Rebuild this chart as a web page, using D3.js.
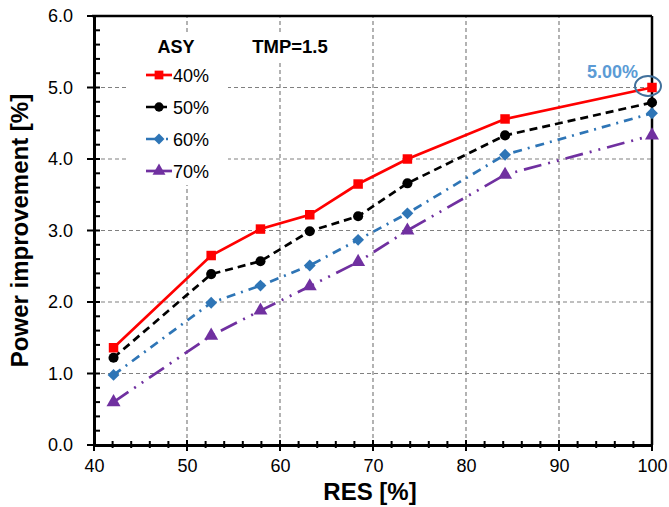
<!DOCTYPE html>
<html>
<head>
<meta charset="utf-8">
<script src="https://cdn.jsdelivr.net/npm/d3@7"></script>
<style>
  body { margin: 0; background: #fff; }
  svg text { font-family: "Liberation Sans", Arial, sans-serif; }
</style>
</head>
<body>
<div id="chart"></div>
<script>
// data
const res = [42.1, 52.6, 57.9, 63.2, 68.4, 73.7, 84.2, 100];
const asy40 = [1.36, 2.65, 3.02, 3.22, 3.65, 4.00, 4.56, 5.00];
const asy50 = [1.22, 2.39, 2.57, 2.99, 3.20, 3.66, 4.33, 4.79];
const asy60 = [0.98, 1.99, 2.23, 2.51, 2.87, 3.24, 4.06, 4.64];
const asy70 = [0.60, 1.53, 1.88, 2.22, 2.56, 3.00, 3.78, 4.33];
const seriesNames = ["40%", "50%", "60%", "70%"];
const xTicks = [40, 50, 60, 70, 80, 90, 100];
const yTicks = [0, 1, 2, 3, 4, 5, 6];

const W = 669, H = 507;
const m = { top: 16, left: 94, right: 17, bottom: 62 };

let svg = d3.select("#chart").append("svg")
    .attr("width", W).attr("height", H);

let x = d3.scaleLinear().domain([40, 100]).range([m.left, W - m.right]);
let y = d3.scaleLinear().domain([0, 6]).range([H - m.bottom, m.top]);

// rot: blue diamonds are drawn as squares turned 45 degrees
let styles = [
   { color: "#ff0000", dash: null, legDash: null, shape: d3.symbolSquare, size: 90, rot: 0 },
   { color: "#000000", dash: "8,5", legDash: "13,3,5,10", shape: d3.symbolCircle, size: 80, rot: 0 },
   { color: "#2e75b6", dash: "9,6,2,6", legDash: "13,7,2,10", shape: d3.symbolSquare, size: 70, rot: 45 },
   { color: "#7030a0", dash: "18,7,2,7,2,7", legDash: null, shape: d3.symbolTriangle, size: 85, rot: 0 }
];

let series = [asy40, asy50, asy60, asy70].map((vals, i) => ({
   name: seriesNames[i],
   style: styles[i],
   points: vals.map((v, j) => ({ x: res[j], y: v }))
}));

// grid
let grid = svg.append("g");
grid.selectAll(".gx").data(xTicks.slice(1, -1)).enter().append("line")
   .attr("x1", d => x(d)).attr("x2", d => x(d))
   .attr("y1", y(0)).attr("y2", y(6))
   .attr("stroke", "#808080").attr("stroke-width", 1.2).attr("stroke-dasharray", "4,3");
grid.selectAll(".gy").data(yTicks.slice(1, -1)).enter().append("line")
   .attr("y1", d => y(d)).attr("y2", d => y(d))
   .attr("x1", x(40)).attr("x2", x(100))
   .attr("stroke", "#808080").attr("stroke-width", 1.2).attr("stroke-dasharray", "4,3");

// legend box and TMP label background cover the grid
svg.append("rect").attr("x", 128).attr("y", 33).attr("width", 100).attr("height", 152).attr("fill", "#fff");
svg.append("rect").attr("x", 248).attr("y", 33).attr("width", 86).attr("height", 28).attr("fill", "#fff");

// frame
svg.append("line").attr("x1", x(40) - 2).attr("x2", x(100)).attr("y1", y(6)).attr("y2", y(6))
   .attr("stroke", "#000").attr("stroke-width", 2.5);
svg.append("line").attr("x1", x(100)).attr("x2", x(100)).attr("y1", y(6)).attr("y2", y(0))
   .attr("stroke", "#000").attr("stroke-width", 2.5);

// axes
let xAxis = svg.append("g")
   .attr("transform", "translate(0," + y(0) + ")")
   .call(d3.axisBottom(x).tickValues(xTicks).tickSize(0).tickPadding(14).tickFormat(d3.format("d")));
xAxis.select(".domain").attr("stroke-width", 3);
xAxis.selectAll("text").attr("font-size", 18).attr("fill", "#000");
xAxis.selectAll(".minor").data(d3.range(40, 101, 2)).enter().append("line")
   .attr("x1", d => x(d)).attr("x2", d => x(d))
   .attr("y1", d => d % 10 === 0 ? -5 : -4).attr("y2", d => d % 10 === 0 ? 6 : 3)
   .attr("stroke", "#000").attr("stroke-width", 2);

let yAxis = svg.append("g")
   .attr("transform", "translate(" + x(40) + ",0)")
   .call(d3.axisLeft(y).tickValues(yTicks).tickSize(0).tickPadding(21).tickFormat(d3.format(".1f")));
yAxis.select(".domain").attr("stroke-width", 3);
yAxis.selectAll("text").attr("font-size", 18).attr("fill", "#000");
yAxis.selectAll(".minor").data(d3.range(0, 6.01, 0.2)).enter().append("line")
   .attr("y1", d => y(d)).attr("y2", d => y(d))
   .attr("x1", d => Math.abs(d - Math.round(d)) < 1e-6 ? -7 : 0).attr("x2", 6)
   .attr("stroke", "#000").attr("stroke-width", 2);

// axis titles
svg.append("text").attr("x", 370).attr("y", 500)
   .attr("text-anchor", "middle").attr("font-size", 24).attr("font-weight", "bold")
   .text("RES [%]");
svg.append("text")
   .attr("transform", "translate(28," + y(3) + ") rotate(-90)")
   .attr("text-anchor", "middle").attr("font-size", 24).attr("font-weight", "bold")
   .text("Power improvement [%]");

// lines
let line = d3.line().x(d => x(d.x)).y(d => y(d.y));
let serie = svg.selectAll(".serie").data(series).enter().append("g").attr("class", "serie");
serie.append("path")
   .attr("d", d => line(d.points))
   .attr("fill", "none")
   .attr("stroke", d => d.style.color)
   .attr("stroke-width", 2.7)
   .attr("stroke-dasharray", d => d.style.dash);
serie.selectAll(".pt").data(d => d.points.map(p => ({ p: p, s: d.style }))).enter().append("path")
   .attr("transform", d => "translate(" + x(d.p.x) + "," + y(d.p.y) + ") rotate(" + d.s.rot + ")")
   .attr("d", d => d3.symbol().type(d.s.shape).size(d.s.size)())
   .attr("fill", d => d.s.color);

// legend
svg.append("text").attr("x", 176).attr("y", 53).attr("text-anchor", "middle")
   .attr("font-size", 18).attr("font-weight", "bold").text("ASY");
let leg = svg.selectAll(".leg").data(series).enter().append("g")
   .attr("transform", (d, i) => "translate(146," + (75 + i * 32) + ")");
leg.append("line").attr("x1", 0).attr("x2", 26)
   .attr("stroke", d => d.style.color).attr("stroke-width", 2.7)
   .attr("stroke-dasharray", d => d.style.legDash);
leg.append("path").attr("transform", d => "translate(13,0) rotate(" + d.style.rot + ")")
   .attr("d", d => d3.symbol().type(d.style.shape).size(d.style.size * 0.85)())
   .attr("fill", d => d.style.color);
leg.append("text").attr("x", 27).attr("y", 6.5).attr("font-size", 18).text(d => d.name);

svg.append("text").attr("x", 290).attr("y", 53).attr("text-anchor", "middle")
   .attr("font-size", 18.5).attr("font-weight", "bold").text("TMP=1.5");

// callout on the peak value
svg.append("text").attr("x", x(100) - 14).attr("y", y(5) - 10).attr("text-anchor", "end")
   .attr("font-size", 18).attr("font-weight", "bold").attr("fill", "#5b9bd5").text("5.00%");
svg.append("ellipse").attr("cx", x(100) - 4).attr("cy", y(5) - 1.5)
   .attr("rx", 13).attr("ry", 10)
   .attr("fill", "none").attr("stroke", "#41719c").attr("stroke-width", 2);
</script>
</body>
</html>
